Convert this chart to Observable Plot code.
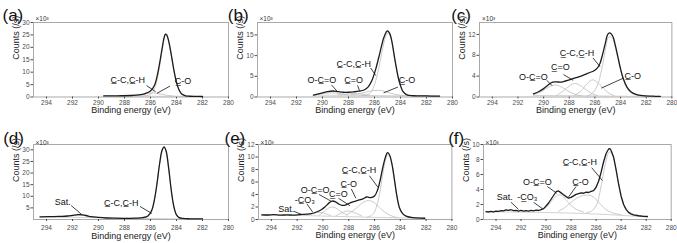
<!DOCTYPE html>
<html><head><meta charset="utf-8">
<script src="https://cdn.jsdelivr.net/npm/d3@7"></script>
<script src="https://cdn.jsdelivr.net/npm/@observablehq/plot@0.6"></script>
<style>
html,body{margin:0;padding:0;background:#fff;}
#chart{position:relative;width:677px;height:243px;overflow:hidden;background:#fff;}
#chart svg{position:absolute;overflow:visible;}
</style></head><body><div id="chart"></div>
<script>
const xTicks = [294,292,290,288,286,284,282,280];
const panelNames = ["(a)","(b)","(c)","(d)","(e)","(f)"];
const yTicksA = [0,5,10,15,20,25,30];
const yTicksB = [0,5,10,15];
const yTicksC = [0,4,8,12];
const yTicksD = [5,10,15,20,25,30];
const yTicksE = [0,2,4,6,8,10,12];
const yTicksF = [0,2,4,6,8,10];
const U = "\u0332";
const lblCC = "C"+U+"-C,C"+U+"-H";
const lblCO = "C"+U+"-O";
const lblC2O = "C"+U+"=O";
const lblOCO = "O-C"+U+"=O";
const lblCO3 = "-C"+U+"O\u2083";
const lblSat = "Sat.";

// (a)
const a_env = [[289.6,0.45],[289,0.45],[288.2,0.5],[287.5,0.6],[286.9,0.85],[286.4,1.4],[286.0,2.4],[285.7,4.6],[285.5,8.2],[285.3,13.5],[285.1,19.8],[284.95,24.0],[284.85,25.3],[284.75,25.0],[284.6,22.5],[284.4,17.0],[284.2,10.8],[284.0,5.9],[283.8,2.8],[283.6,1.2],[283.3,0.5],[283.0,0.3],[282.5,0.25],[282.0,0.2]];
const a_cc = [[288.0,0.3],[287.0,0.32],[286.4,0.5],[286.0,1.1],[285.7,3.3],[285.5,6.9],[285.3,12.4],[285.1,18.9],[284.95,23.3],[284.85,24.8],[284.75,24.6],[284.6,22.2],[284.4,16.8],[284.2,10.7],[284.0,5.8],[283.8,2.7],[283.6,1.15],[283.3,0.45],[283.0,0.28],[282.5,0.22],[282.0,0.2]];
const a_co = [[287.6,0.35],[287.1,0.55],[286.6,1.05],[286.2,1.45],[285.85,1.6],[285.5,1.45],[285.1,1.05],[284.7,0.65],[284.3,0.4],[283.8,0.28],[283.0,0.22]];
const a_base = [[289.6,0.4],[287.5,0.35],[285.5,0.3],[284,0.22],[282,0.18]];
const a_labels = [[287.75,6.8,lblCC],[283.5,6.2,lblCO]];
const a_leaders = [[286.3,4.6,285.6,2.1],[284.5,4.4,285.5,1.5]];

// (b)
const b_env = [[290.7,0.45],[290.4,0.7],[290.0,1.0],[289.6,1.3],[289.2,1.45],[288.8,1.3],[288.4,1.15],[288.0,1.15],[287.6,1.25],[287.2,1.4],[286.8,1.7],[286.5,2.4],[286.2,4.0],[285.9,6.8],[285.6,10.5],[285.3,14.2],[285.1,15.7],[285.0,16.0],[284.85,15.5],[284.7,14.0],[284.4,8.5],[284.1,3.8],[283.8,1.3],[283.5,0.5],[283.0,0.3],[282.0,0.25],[281.0,0.2]];
const b_cc = [[287.0,0.35],[286.5,0.6],[286.2,1.5],[285.9,4.0],[285.6,8.0],[285.3,12.8],[285.1,15.0],[285.0,15.5],[284.85,15.2],[284.7,13.8],[284.4,8.3],[284.1,3.6],[283.8,1.2],[283.5,0.45],[283.0,0.3],[282.0,0.22],[281.0,0.2]];
const b_co = [[287.8,0.5],[287.0,0.9],[286.4,1.4],[285.8,1.6],[285.3,1.45],[284.8,0.95],[284.2,0.5],[283.5,0.3],[282.0,0.22]];
const b_c2o = [[288.8,0.5],[288.2,0.7],[287.6,0.85],[287.0,0.7],[286.4,0.45]];
const b_oco = [[290.6,0.5],[290.0,0.8],[289.3,1.0],[288.6,0.8],[288.0,0.5]];
const b_base = [[290.7,0.45],[288.0,0.4],[286.0,0.35],[284.0,0.25],[281.0,0.2]];
const b_labels = [[290.05,4.1,lblOCO],[287.6,4.1,lblC2O],[287.6,8.0,lblCC],[283.5,4.0,lblCO]];
const b_leaders = [[289.3,2.9,288.85,1.3],[287.3,2.8,287.15,1.5],[286.3,7.0,285.9,5.2],[284.2,2.4,285.3,1.0]];

// (c)
const c_env = [[290.8,0.6],[290.4,1.0],[290.0,1.6],[289.6,2.4],[289.3,2.85],[289.0,2.9],[288.7,2.85],[288.4,3.0],[288.0,3.3],[287.6,3.6],[287.2,3.9],[286.8,4.3],[286.4,4.7],[286.1,5.0],[285.8,5.6],[285.6,6.5],[285.4,8.2],[285.2,10.2],[285.0,12.0],[284.85,12.3],[284.6,11.6],[284.4,9.8],[284.2,7.6],[284.0,5.4],[283.8,3.6],[283.5,1.9],[283.2,1.0],[282.8,0.5],[282.3,0.25],[281.5,0.15],[280.9,0.1]];
const c_oco = [[290.8,0.4],[290.2,1.0],[289.6,1.9],[289.1,2.3],[288.6,1.9],[288.0,1.0],[287.4,0.4],[287.0,0.2]];
const c_c2o = [[289.0,0.3],[288.5,1.1],[288.0,2.1],[287.6,2.6],[287.2,2.3],[286.7,1.4],[286.2,0.6],[285.8,0.3]];
const c_co = [[287.6,0.3],[287.1,1.1],[286.6,2.6],[286.2,3.3],[285.8,2.8],[285.3,1.6],[284.9,0.7],[284.5,0.3]];
const c_cc = [[286.6,0.2],[286.2,0.7],[285.8,2.3],[285.5,5.0],[285.2,8.9],[285.0,11.2],[284.85,11.6],[284.6,11.1],[284.4,9.4],[284.2,7.3],[284.0,5.2],[283.8,3.4],[283.5,1.7],[283.2,0.8],[282.8,0.35],[282.3,0.15],[281.5,0.1]];
const c_base = [[290.8,0.3],[288.0,0.25],[285.0,0.18],[282.0,0.1],[280.9,0.1]];
const c_labels = [[290.8,3.9,lblOCO],[288.7,5.7,lblC2O],[287.4,8.4,lblCC],[283.05,4.1,lblCO]];
const c_leaders = [[289.75,3.2,289.35,2.2],[288.45,4.3,287.7,3.2],[286.15,7.5,285.6,5.8],[283.8,3.6,285.5,1.7]];

// (d)
const d_env = [[294.5,1.15],[293.8,1.2],[293.0,1.35],[292.4,1.5],[292.0,1.8],[291.6,2.1],[291.2,2.0],[290.8,1.5],[290.4,1.15],[290.0,0.9],[289.4,0.65],[288.8,0.55],[288.0,0.5],[287.2,0.6],[286.6,0.8],[286.2,1.5],[285.9,4.0],[285.7,8.5],[285.5,15.5],[285.3,24.0],[285.1,30.0],[284.95,31.3],[284.8,29.5],[284.6,22.0],[284.4,12.5],[284.2,5.5],[284.0,2.0],[283.8,0.8],[283.5,0.45],[283.0,0.3],[282.0,0.25]];
const d_cc = [[287.5,0.45],[286.6,0.6],[286.2,1.3],[285.9,3.8],[285.7,8.3],[285.5,15.3],[285.3,23.8],[285.1,29.8],[284.95,31.1],[284.8,29.3],[284.6,21.8],[284.4,12.3],[284.2,5.3],[284.0,1.9],[283.8,0.75],[283.5,0.4],[283.0,0.28],[282.0,0.22]];
const d_sat = [[293.0,1.0],[292.4,1.25],[291.8,1.7],[291.4,1.85],[291.0,1.6],[290.5,1.1],[290.0,0.8]];
const d_base = [[294.5,1.1],[292.0,0.95],[290.0,0.75],[288.0,0.55],[286.0,0.45],[284.0,0.3],[282.0,0.22]];
const d_labels = [[292.75,7.3,lblSat],[288.25,7.1,lblCC]];
const d_leaders = [[292.1,6.0,291.3,2.2],[286.8,5.6,285.9,2.6]];

// (e)
const e_env = [[294.75,0.75],[294.3,0.72],[293.8,0.78],[293.3,0.7],[292.8,0.74],[292.3,0.7],[291.8,0.78],[291.3,0.85],[290.9,0.95],[290.5,1.2],[290.1,1.6],[289.8,2.1],[289.5,2.7],[289.3,2.95],[289.05,2.85],[288.8,2.5],[288.5,2.25],[288.2,2.35],[287.8,2.75],[287.3,3.05],[286.9,3.3],[286.6,3.6],[286.3,3.5],[286.0,3.75],[285.75,4.8],[285.55,6.4],[285.35,8.4],[285.15,10.0],[285.0,10.7],[284.85,10.4],[284.65,8.9],[284.45,6.3],[284.25,3.6],[284.05,1.8],[283.8,0.9],[283.5,0.5],[283.0,0.3],[282.1,0.2]];
const e_co3 = [[291.3,0.7],[290.8,0.95],[290.3,1.15],[289.9,1.0],[289.4,0.6]];
const e_oco = [[290.3,0.7],[289.9,1.3],[289.5,1.9],[289.2,2.0],[288.9,1.7],[288.5,1.1],[288.1,0.7]];
const e_c2o = [[289.0,0.6],[288.6,1.0],[288.2,1.35],[287.8,1.3],[287.4,0.95],[287.0,0.6]];
const e_co = [[288.2,0.7],[287.6,1.5],[287.1,2.4],[286.6,3.0],[286.2,2.9],[285.8,2.3],[285.4,1.5],[285.0,0.9],[284.6,0.5],[284.2,0.3]];
const e_cc = [[286.6,0.3],[286.1,0.9],[285.8,2.4],[285.55,4.8],[285.35,7.4],[285.15,9.5],[285.0,10.3],[284.85,10.2],[284.65,8.8],[284.45,6.2],[284.25,3.5],[284.05,1.7],[283.8,0.8],[283.5,0.4],[283.0,0.25],[282.1,0.2]];
const e_base = [[294.75,0.7],[292.0,0.65],[290.0,0.55],[288.0,0.45],[286.0,0.35],[284.0,0.25],[282.1,0.2]];
const e_labels = [[292.85,1.7,lblSat],[291.4,3.15,lblCO3],[290.6,4.75,lblOCO],[288.8,4.0,lblC2O],[288.0,5.7,lblCO],[287.2,7.95,lblCC]];
const e_leaders = [[292.25,1.3,291.7,0.85],[291.25,2.5,290.8,1.2],[290.3,4.0,289.35,2.9],[288.8,3.4,287.9,2.2],[287.8,4.9,287.45,3.4],[286.4,7.0,285.75,5.2]];

// (f)
const f_env = [[294.8,1.05],[294.6,1.0],[294.4,1.08],[294.2,1.02],[294.0,1.12],[293.8,1.08],[293.6,1.18],[293.4,1.14],[293.2,1.28],[293.0,1.22],[292.8,1.3],[292.6,1.18],[292.4,1.22],[292.2,1.12],[292.0,1.2],[291.8,1.1],[291.6,1.18],[291.4,1.12],[291.2,1.22],[291.0,1.16],[290.8,1.24],[290.6,1.2],[290.4,1.32],[290.2,1.45],[290.0,1.8],[289.8,2.2],[289.6,2.7],[289.4,3.2],[289.2,3.7],[289.0,3.8],[288.8,3.55],[288.6,3.3],[288.4,3.05],[288.2,2.85],[288.0,2.95],[287.8,3.15],[287.6,3.35],[287.4,3.45],[287.2,3.55],[287.0,3.5],[286.8,3.65],[286.6,3.6],[286.4,3.75],[286.2,3.85],[286.0,4.3],[285.8,5.1],[285.6,6.3],[285.4,7.7],[285.2,8.8],[285.0,9.4],[284.9,9.45],[284.8,9.2],[284.6,8.3],[284.4,6.6],[284.2,4.7],[284.0,3.1],[283.8,2.0],[283.6,1.35],[283.4,0.95],[283.2,0.75],[283.0,0.62],[282.6,0.5],[282.2,0.42],[281.9,0.4]];
const f_oco = [[290.5,1.2],[290.0,1.6],[289.6,2.4],[289.2,3.1],[288.95,3.3],[288.6,3.0],[288.2,2.2],[287.8,1.6],[287.4,1.2],[287.0,1.0]];
const f_co = [[289.0,1.1],[288.5,1.6],[288.0,2.3],[287.5,2.9],[287.0,3.2],[286.6,3.25],[286.2,3.0],[285.8,2.3],[285.4,1.6],[285.0,1.1],[284.5,0.8],[284.0,0.65]];
const f_cc = [[286.8,0.85],[286.3,1.2],[285.95,2.0],[285.7,3.6],[285.45,5.8],[285.2,7.9],[285.0,8.9],[284.85,9.0],[284.6,8.1],[284.4,6.5],[284.2,4.6],[284.0,3.0],[283.8,1.95],[283.5,1.0],[283.2,0.65],[282.8,0.5],[282.4,0.42],[281.9,0.38]];
const f_base = [[294.8,1.0],[293.0,1.0],[291.0,0.95],[289.0,0.9],[287.0,0.8],[285.0,0.65],[283.0,0.45],[281.9,0.35]];
const f_labels = [[293.3,2.95,lblSat],[291.5,2.95,lblCO3],[290.7,5.0,lblOCO],[287.25,5.0,lblCO],[287.3,7.7,lblCC]];
const f_leaders = [[292.8,2.3,292.2,1.35],[291.0,2.3,290.3,1.45],[289.9,4.4,289.15,3.5],[287.6,4.4,288.2,3.0],[286.35,6.9,285.5,5.2]];

const FONT = '"Liberation Sans", Arial, Helvetica, sans-serif';

const panels = [
  {name: panelNames[0], row: 0, frameL: 33.3, frameR: 228.3, yMax: 30, yTicks: yTicksA, env: a_env, comps: [a_cc, a_co], base: a_base, labels: a_labels, leaders: a_leaders, nameDx: -31, expDx: 2},
  {name: panelNames[1], row: 0, frameL: 256.7, frameR: 451.7, yMax: 18, yTicks: yTicksB, env: b_env, comps: [b_cc, b_co, b_c2o, b_oco], base: b_base, labels: b_labels, leaders: b_leaders, nameDx: -29.7, expDx: 2},
  {name: panelNames[2], row: 0, frameL: 479.3, frameR: 671.7, yMax: 14.3, yTicks: yTicksC, env: c_env, comps: [c_cc, c_co, c_c2o, c_oco], base: c_base, labels: c_labels, leaders: c_leaders, nameDx: -28.3, expDx: 2.5},
  {name: panelNames[3], row: 1, frameL: 33.3, frameR: 228.3, yMax: 32.3, yTicks: yTicksD, env: d_env, comps: [d_cc, d_sat], base: d_base, labels: d_labels, leaders: d_leaders, nameDx: -30.3, expDx: 2},
  {name: panelNames[4], row: 1, frameL: 258.3, frameR: 451.7, yMax: 12, yTicks: yTicksE, env: e_env, comps: [e_cc, e_co, e_c2o, e_oco, e_co3], base: e_base, labels: e_labels, leaders: e_leaders, nameDx: -34, expDx: 2},
  {name: panelNames[5], row: 1, frameL: 483.3, frameR: 671, yMax: 10, yTicks: yTicksF, env: f_env, comps: [f_cc, f_co, f_oco], base: f_base, labels: f_labels, leaders: f_leaders, nameDx: -35.3, expDx: 2, noisy: true}
];

function makePanel(p) {
  const mL = 36, mR = 8;
  const top = p.row === 0 ? 0 : 122;
  const H = p.row === 0 ? 122 : 121;
  const frameTop = p.row === 0 ? 22 : 144;
  const frameBottom = p.row === 0 ? 96.5 : 219;
  const W = p.frameR - p.frameL + mL + mR;
  const xy = {x: d => d[0], y: d => d[1]};
  const svg = Plot.plot({
    width: W, height: H,
    marginLeft: mL, marginRight: mR,
    marginTop: frameTop - top, marginBottom: top + H - frameBottom,
    x: {domain: [295, 280]},
    y: {domain: [0, p.yMax]},
    style: {background: "transparent", overflow: "visible", fontFamily: FONT},
    marks: [
      Plot.frame({stroke: "#a9a9a9", strokeWidth: 1}),
      Plot.axisX({ticks: xTicks, tickSize: 2, tickPadding: p.row === 0 ? 1 : 3.5, fontSize: 6.5, color: "#4a4a4a", label: null, tickFormat: d => String(d)}),
      Plot.axisY({ticks: p.yTicks, tickSize: 2.5, tickPadding: 1.5, fontSize: 6.5, color: "#4a4a4a", label: null, tickFormat: d => String(d)}),
      Plot.line(p.base, {...xy, stroke: "#c6c6c6", strokeWidth: 0.8, curve: "catmull-rom"}),
      ...p.comps.map(c => Plot.line(c, {...xy, stroke: "#bcbcbc", strokeWidth: 0.8, curve: "catmull-rom"})),
      Plot.line(p.env, {...xy, stroke: "#1c1c1c", strokeWidth: 1.3, curve: p.noisy ? "linear" : "catmull-rom"}),
      Plot.link(p.leaders, {x1: d => d[0], y1: d => d[1], x2: d => d[2], y2: d => d[3], stroke: "#111", strokeWidth: 0.8}),
      Plot.text(p.labels, {x: d => d[0], y: d => d[1], text: d => d[2], fontSize: 9, fill: "#111", fontFamily: FONT}),
      Plot.text([p.name], {frameAnchor: "top-left", textAnchor: "start", dx: p.nameDx, dy: p.row === 0 ? -13.2 : -12.5, fontSize: 17, fill: "#111", fontFamily: FONT}),
      Plot.text(["\u00d710\u00b3"], {frameAnchor: "top-left", textAnchor: "start", dx: p.expDx, dy: p.row === 0 ? -6.5 : -4.5, fontSize: 6.5, fill: "#333", fontFamily: FONT}),
      Plot.text(["Binding energy (eV)"], {frameAnchor: "bottom", dy: p.row === 0 ? 16.2 : 19, fontSize: 9, fill: "#222", fontFamily: FONT}),
      Plot.text(["Counts (/s)"], {frameAnchor: "left", dx: -17, rotate: -90, fontSize: 9, fill: "#222", fontFamily: FONT})
    ]
  });
  svg.style.left = (p.frameL - mL) + "px";
  svg.style.top = top + "px";
  return svg;
}

const chart = document.getElementById("chart");
for (const p of panels) chart.appendChild(makePanel(p));
</script></body></html>
